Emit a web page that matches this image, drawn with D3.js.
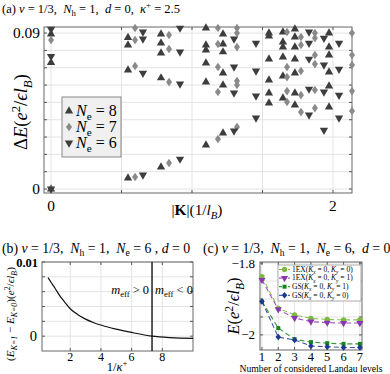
<!DOCTYPE html>
<html>
<head>
<meta charset="utf-8">
<script src="https://cdn.jsdelivr.net/npm/d3@7"></script>
<style>
body { margin: 0; background: #fff; }
svg { display: block; font-family: "Liberation Serif", "DejaVu Serif", serif; }
svg text { white-space: pre; }
</style>
</head>
<body>
<svg id="fig" width="390" height="374"></svg>
<script>
// ---- (a) excitation spectrum, energies grouped by |K| for each system size
const ne8 = [
  {k: 0,     e: [0, 0.0730, 0.0894]},
  {k: 0.546, e: [0.0063, 0.0687, 0.0831, 0.0874]},
  {k: 0.78,  e: [0.0127, 0.0641, 0.0785, 0.0842, 0.0894]},
  {k: 1.099, e: [0.0254, 0.0617, 0.0727, 0.0802, 0.0831, 0.0929]},
  {k: 1.22,  e: [0.0323, 0.0600, 0.0669, 0.0791, 0.0837, 0.0894]},
  {k: 1.546, e: [0.0496, 0.0554, 0.0629, 0.0750, 0.0883, 0.0900]},
  {k: 1.645, e: [0.0525, 0.0652, 0.0762, 0.0819, 0.0848, 0.0906]},
  {k: 1.73,  e: [0.0485, 0.0554, 0.0669, 0.0750, 0.0819, 0.0877, 0.0923]},
  {k: 1.972, e: [0.0473, 0.0594, 0.0675, 0.0773, 0.0819, 0.0900]}
];
const ne7 = [
  {k: 0,     e: [0, 0.0860]},
  {k: 0.596, e: [0.0069, 0.0710, 0.0860, 0.0929]},
  {k: 0.837, e: [0.0150, 0.0617, 0.0808, 0.0889]},
  {k: 1.184, e: [0.0289, 0.0560, 0.0704, 0.0837, 0.0929]},
  {k: 1.319, e: [0.0358, 0.0600, 0.0623, 0.0819, 0.0900, 0.0929]},
  {k: 1.674, e: [0.0502, 0.0565, 0.0646, 0.0704, 0.0906]},
  {k: 1.773, e: [0.0444, 0.0542, 0.0681, 0.0831, 0.0877]},
  {k: 1.872, e: [0.0467, 0.0571, 0.0721, 0.0773, 0.0871, 0.0900]},
  {k: 2.135, e: [0.0450, 0.0565, 0.0716, 0.0773, 0.0900]}
];
const ne6 = [
  {k: 0,     e: [0, 0.0765, 0.0923]},
  {k: 0.652, e: [0.0081, 0.0669, 0.0866, 0.0906]},
  {k: 0.915, e: [0.0173, 0.0606, 0.0791, 0.0929]},
  {k: 1.298, e: [0.0335, 0.0554, 0.0704, 0.0866]},
  {k: 1.454, e: [0.0410, 0.0537, 0.0681, 0.0842]},
  {k: 1.83,  e: [0.0427, 0.0577, 0.0750, 0.0842, 0.0906]},
  {k: 1.936, e: [0.0340, 0.0560, 0.0716, 0.0871]},
  {k: 2.043, e: [0.0410, 0.0542, 0.0692, 0.0842]}
];
const aXGrid = [0, 0.5, 1, 1.5, 2];
const aXLabels = [0, 2];
const aYGrid = d3.range(0, 0.0901, 0.01);
const aYLabels = [0, 0.09];

// ---- (b) E(K=1) - E(K=0) against 1/kappa+
const invKappa = [0.55, 0.8, 1.0, 1.3, 1.6, 2.0, 2.5, 3.0, 3.5, 4.0, 4.5, 5.0, 6.0, 7.33, 8.5, 10];
const gapK = [0.0079, 0.0071, 0.0065, 0.0055, 0.0047, 0.0037, 0.0029, 0.0023, 0.00185, 0.0015, 0.0012, 0.00095, 0.0005, 0.0, -0.0002, -0.0003];
const meffSwitch = 7.33;
const bXTicks = [2, 4, 6, 8];
const bYGrid = [0, 0.002, 0.004, 0.006, 0.008, 0.01];

// ---- (c) energies vs number of Landau levels
const levels = [1, 2, 3, 4, 5, 6, 7];
const ex00 = [-1.838, -1.926, -1.944, -1.954, -1.957, -1.958, -1.958];
const ex01 = [-1.847, -1.929, -1.953, -1.963, -1.966, -1.967, -1.967];
const gs01 = [-1.907, -1.981, -2.012, -2.020, -2.023, -2.025, -2.025];
const gs00 = [-1.907, -2.006, -2.014, -2.031, -2.033, -2.035, -2.035];
const cYGrid = [-2, -1.95, -1.9, -1.85, -1.8];

const svg = d3.select("#fig");
svg.append("rect").attr("width", 390).attr("height", 374).attr("fill", "#fff");

// text with italic / sub / sup runs: part = "txt" or [txt, flags]
function rich(g, parts, size) {
  const t = g.append("text").attr("font-size", size);
  let off = 0;
  parts.forEach(function(p) {
    const s = typeof p === "string" ? p : p[0];
    const f = typeof p === "string" ? "" : p[1];
    const target = f.includes("_") ? size * 0.28 : f.includes("^") ? -size * 0.38 : 0;
    const ts = t.append("tspan").text(s);
    if (target - off !== 0) ts.attr("dy", target - off);
    off = target;
    if (f.includes("_") || f.includes("^")) ts.attr("font-size", size * 0.7);
    if (f.includes("i")) ts.attr("font-style", "italic");
    if (f.includes("b")) ts.attr("font-weight", "bold");
  });
  return t;
}

function frame(x, y, xg, yg) {
  const [x0, x1] = x.range(), [y0, y1] = y.range();
  const g = svg.append("g");
  g.selectAll(null).data(xg).join("line")
    .attr("x1", d => x(d)).attr("x2", d => x(d)).attr("y1", y0).attr("y2", y1)
    .attr("stroke", "#e3e3e3");
  g.selectAll(null).data(yg).join("line")
    .attr("y1", d => y(d)).attr("y2", d => y(d)).attr("x1", x0).attr("x2", x1)
    .attr("stroke", "#e3e3e3");
  xg.forEach(function(d) {
    g.append("line").attr("x1", x(d)).attr("x2", x(d)).attr("y1", y0).attr("y2", y0 - 3).attr("stroke", "#555");
    g.append("line").attr("x1", x(d)).attr("x2", x(d)).attr("y1", y1).attr("y2", y1 + 3).attr("stroke", "#555");
  });
  yg.forEach(function(d) {
    g.append("line").attr("y1", y(d)).attr("y2", y(d)).attr("x1", x0).attr("x2", x0 + 3).attr("stroke", "#555");
    g.append("line").attr("y1", y(d)).attr("y2", y(d)).attr("x1", x1).attr("x2", x1 - 3).attr("stroke", "#555");
  });
  g.append("rect").attr("x", x0).attr("y", y1).attr("width", x1 - x0).attr("height", y0 - y1)
    .attr("fill", "none").attr("stroke", "#666");
  return g;
}

const tri = d3.symbol(d3.symbolTriangle, 30)();
const dia = d3.symbol({draw: function(c) {
  c.moveTo(0, -4.3); c.lineTo(3, 0); c.lineTo(0, 4.3); c.lineTo(-3, 0); c.closePath();
}})();

// ================= (a)
const xa = d3.scaleLinear().domain([-0.05, 2.135]).range([44, 352]);
const ya = d3.scaleLinear().domain([-0.0023, 0.0935]).range([193, 27]);
frame(xa, ya, aXGrid, aYGrid);

const aSeries = [
  {rows: ne8, path: tri, rot: 0, fill: "#3d3d3d", label: "8"},
  {rows: ne7, path: dia, rot: 0, fill: "#8a8a8a", label: "7"},
  {rows: ne6, path: tri, rot: 180, fill: "#3d3d3d", label: "6"}
];
aSeries.forEach(function(s) {
  const pts = s.rows.flatMap(r => r.e.map(e => ({k: r.k, e: e})));
  svg.append("g").selectAll("path").data(pts).join("path")
    .attr("d", s.path).attr("fill", s.fill)
    .attr("transform", d => `translate(${xa(d.k)},${ya(d.e)}) rotate(${s.rot})`);
});

svg.append("g").attr("font-size", 15.4).attr("text-anchor", "end")
  .selectAll("text").data(aYLabels).join("text")
  .attr("x", 40).attr("y", d => ya(d) + 5).text(d => d === 0 ? "0" : d3.format(".2f")(d));
svg.append("g").attr("font-size", 15.4).attr("text-anchor", "middle")
  .selectAll("text").data(aXLabels).join("text")
  .attr("x", d => xa(d)).attr("y", 211).text(d => d);

rich(svg.append("g").attr("transform", "translate(2,12.5)"),
  ["(a) ", ["ν", "i"], " = 1/3,  ", ["N", "i"], ["h", "_"], " = 1,  ", ["d", "i"], " = 0,  ",
   ["κ", "i"], ["+", "^"], " = 2.5"], 12.5);
rich(svg.append("g").attr("transform", "translate(27,112) rotate(-90)"),
  ["Δ", ["E", "i"], "(", ["e", "i"], ["2", "^"], "/", ["ϵ", "i"], ["l", "i"], ["B", "i_"], ")"], 18.5)
  .attr("text-anchor", "middle");
rich(svg.append("g").attr("transform", "translate(197,215)"),
  ["|", ["K", "b"], "|(1/", ["l", "i"], ["B", "i_"], ")"], 15.3)
  .attr("text-anchor", "middle");

// legend (a)
const lga = svg.append("g");
lga.append("rect").attr("x", 62).attr("y", 97).attr("width", 59).attr("height", 60)
  .attr("fill", "#f0f0f0").attr("stroke", "#888");
aSeries.forEach(function(s, i) {
  const cy = 111 + i * 16;
  lga.append("path").attr("d", s.path).attr("fill", s.fill)
    .attr("transform", `translate(69,${cy}) rotate(${s.rot})`);
  rich(lga.append("g").attr("transform", `translate(76,${cy + 5})`),
    [["N", "i"], ["e", "_"], " = " + s.label], 16);
});

// ================= (b)
const xb = d3.scaleLinear().domain([0.16, 10]).range([42, 193]);
const yb = d3.scaleLinear().domain([-0.002, 0.01]).range([351, 262]);
frame(xb, yb, bXTicks, bYGrid);

svg.append("path").datum(d3.zip(invKappa, gapK))
  .attr("d", d3.line().x(d => xb(d[0])).y(d => yb(d[1])).curve(d3.curveMonotoneX))
  .attr("fill", "none").attr("stroke", "#111").attr("stroke-width", 1.2);
svg.append("line").attr("x1", xb(meffSwitch)).attr("x2", xb(meffSwitch))
  .attr("y1", yb.range()[0]).attr("y2", yb.range()[1])
  .attr("stroke", "#000").attr("stroke-width", 1.3);

svg.append("text").attr("x", 38).attr("y", yb(0.01) + 5).attr("font-size", 12.5)
  .attr("font-weight", "bold").attr("text-anchor", "end").text("0.01");
svg.append("text").attr("x", 37).attr("y", yb(0) + 5).attr("font-size", 14.5)
  .attr("text-anchor", "end").text("0");
svg.append("g").attr("font-size", 12).attr("text-anchor", "middle")
  .selectAll("text").data(bXTicks).join("text")
  .attr("x", d => xb(d)).attr("y", 361).text(d => d);

rich(svg.append("g").attr("transform", "translate(2,252.5)"),
  ["(b) ", ["ν", "i"], " = 1/3,  ", ["N", "i"], ["h", "_"], " = 1,  ", ["N", "i"], ["e", "_"],
   " = 6 , ", ["d", "i"], " = 0"], 13.8);
rich(svg.append("g").attr("transform", "translate(14,314) rotate(-90)"),
  ["(", ["E", "i"], ["K=1", "i_"], " − ", ["E", "i"], ["K=0", "i_"], ")(", ["e", "i"], ["2", "^"],
   "/", ["ϵ", "i"], ["l", "i"], ["B", "i_"], ")"], 11.2)
  .attr("text-anchor", "middle");
rich(svg.append("g").attr("transform", "translate(117,370.5)"),
  ["1/", ["κ", "i"], ["+", "^"]], 12.5).attr("text-anchor", "middle");
rich(svg.append("g").attr("transform", `translate(${xb(meffSwitch) - 3},294)`),
  [["m", "i"], ["eff", "_"], " > 0"], 12.4).attr("text-anchor", "end");
rich(svg.append("g").attr("transform", `translate(${xb(meffSwitch) + 3},294)`),
  [["m", "i"], ["eff", "_"], " < 0"], 12.4);

// ================= (c)
const xc = d3.scaleLinear().domain([0.88, 7.13]).range([260, 362]);
const yc = d3.scaleLinear().domain([-2.042, -1.797]).range([350, 262]);
frame(xc, yc, levels, cYGrid);

const sq = d3.symbol(d3.symbolSquare, 16)();
const cDia = d3.symbol({draw: function(c) {
  c.moveTo(0, -3.3); c.lineTo(2.8, 0); c.lineTo(0, 3.3); c.lineTo(-2.8, 0); c.closePath();
}})();
const cSeries = [
  {vals: ex00, color: "#7cb940", mark: d3.symbol(d3.symbolCircle, 22)(), rot: 0,
   name: ["1EX(", ["K", "i"], ["x", "i_"], " = 0, ", ["K", "i"], ["y", "i_"], " = 0)"]},
  {vals: ex01, color: "#8b36b3", mark: d3.symbol(d3.symbolTriangle, 22)(), rot: 180,
   name: ["1EX(", ["K", "i"], ["x", "i_"], " = 0, ", ["K", "i"], ["y", "i_"], " = 1)"]},
  {vals: gs01, color: "#16871b", mark: sq, rot: 0,
   name: ["GS(", ["K", "i"], ["x", "i_"], " = 0, ", ["K", "i"], ["y", "i_"], " = 1)"]},
  {vals: gs00, color: "#1c3a94", mark: cDia, rot: 0,
   name: ["GS(", ["K", "i"], ["x", "i_"], " = 0, ", ["K", "i"], ["y", "i_"], " = 0)"]}
];
const cLine = d3.line().x(d => xc(d[0])).y(d => yc(d[1]));
cSeries.forEach(function(s) {
  const pts = d3.zip(levels, s.vals);
  svg.append("path").datum(pts).attr("d", cLine).attr("fill", "none")
    .attr("stroke", s.color).attr("stroke-width", 1.1).attr("stroke-dasharray", "5,3")
    .attr("opacity", 0.85);
  svg.append("g").selectAll("path").data(pts).join("path")
    .attr("d", s.mark).attr("fill", s.color)
    .attr("transform", d => `translate(${xc(d[0])},${yc(d[1])}) rotate(${s.rot})`);
});

svg.append("text").attr("x", 255).attr("y", yc(-1.8) + 5).attr("font-size", 13)
  .attr("text-anchor", "end").text("−1.8");
svg.append("text").attr("x", 255).attr("y", yc(-2) + 4).attr("font-size", 13)
  .attr("text-anchor", "end").text("−2");
svg.append("g").attr("font-size", 12.5).attr("text-anchor", "middle")
  .selectAll("text").data(levels).join("text")
  .attr("x", d => xc(d)).attr("y", 361).text(d => d);

rich(svg.append("g").attr("transform", "translate(203,252.5)"),
  ["(c) ", ["ν", "i"], " = 1/3,  ", ["N", "i"], ["h", "_"], " = 1,  ", ["N", "i"], ["e", "_"],
   " = 6,  ", ["d", "i"], " = 0"], 13.8);
rich(svg.append("g").attr("transform", "translate(239,306) rotate(-90)"),
  [["E", "i"], "(", ["e", "i"], ["2", "^"], "/", ["ϵ", "i"], ["l", "i"], ["B", "i_"], ")"], 16.5)
  .attr("text-anchor", "middle");
svg.append("text").attr("x", 311).attr("y", 372).attr("font-size", 9.7)
  .attr("text-anchor", "middle").text("Number of considered Landau levels");

// legend (c)
const lgc = svg.append("g");
lgc.append("rect").attr("x", 278).attr("y", 265).attr("width", 83).attr("height", 36)
  .attr("fill", "#fff").attr("stroke", "#aaa");
cSeries.forEach(function(s, i) {
  const cy = 269.5 + i * 8.6;
  lgc.append("line").attr("x1", 279).attr("x2", 290).attr("y1", cy).attr("y2", cy)
    .attr("stroke", s.color).attr("stroke-dasharray", "3,1.5");
  lgc.append("path").attr("d", s.mark).attr("fill", s.color)
    .attr("transform", `translate(284.5,${cy}) rotate(${s.rot})`);
  rich(lgc.append("g").attr("transform", `translate(292,${cy + 2.3})`), s.name, 7.5);
});
</script>
</body>
</html>
